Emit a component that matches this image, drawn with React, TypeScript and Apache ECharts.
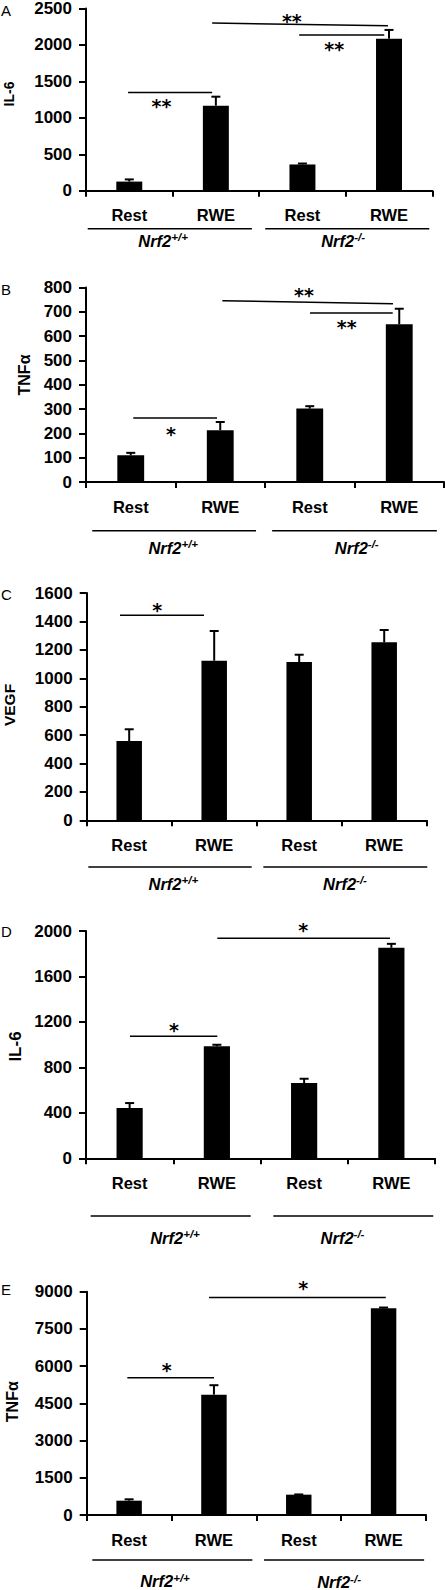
import { useEffect, useRef } from "react";
import * as echarts from "echarts";

// ---------- data ----------
const categories = ["Rest", "RWE", "Rest", "RWE"];
const groupSup = ["+/+", "-/-"];

const il6AValues = [125, 1167, 360, 2086];
const il6AErrors = [30, 123, 13, 120];
const tnfBValues = [110, 213, 302, 649];
const tnfBErrors = [10, 34, 10, 64];
const vegfCValues = [558, 1124, 1115, 1253];
const vegfCErrors = [83, 209, 51, 87];
const il6DValues = [442, 985, 662, 1852];
const il6DErrors = [44, 14, 38, 35];
const tnfEValues = [577, 4851, 819, 8332];
const tnfEErrors = [56, 380, 10, 30];

const yMaxes = [2500, 800, 1600, 2000, 9000];
const yIntervals = [500, 100, 200, 400, 1500];
const yTitles = ["IL-6", "TNFα", "VEGF", "IL-6", "TNFα"];
const panelLetters = ["A", "B", "C", "D", "E"];

// significance lines: [u1, value1, u2, value2]; u = position along the category axis in category widths
const sigLinesA = [[0.486, 1348, 1.457, 1348], [1.457, 2300, 3.488, 2263], [2.462, 2137, 3.445, 2137]];
const sigStarsA: [string, number, number][] = [["**", 0.871, 1219], ["**", 2.378, 2393], ["**", 2.867, 2004]];
const sigLinesB = [[0.528, 263, 1.464, 263], [1.523, 746, 3.43, 734], [2.503, 695, 3.427, 695]];
const sigStarsB: [string, number, number][] = [["*", 0.95, 214], ["**", 2.436, 787], ["**", 2.913, 656]];
const sigLinesC = [[0.392, 1444, 1.38, 1444]];
const sigStarsC: [string, number, number][] = [["*", 0.831, 1511]];
const sigLinesD = [[0.504, 1073, 1.505, 1073], [1.505, 1937, 3.484, 1937]];
const sigStarsD: [string, number, number][] = [["*", 1.009, 1165], ["*", 2.49, 2047]];
const sigLinesE = [[0.479, 5536, 1.501, 5536], [1.442, 8762, 3.526, 8762]];
const sigStarsE: [string, number, number][] = [["*", 0.943, 6008], ["*", 2.554, 9315]];

// genotype group underlines [u1, u2] and label centres (u)
const groupLinesA = [[0.02, 1.916], [2.07, 3.965]];
const groupLabelsA = [0.89, 2.97];
const groupLinesB = [[0.07, 1.9], [2.08, 3.92]];
const groupLabelsB = [0.975, 3.025];
const groupLinesC = [[0.019, 1.941], [2.078, 4.007]];
const groupLabelsC = [1.019, 3.039];
const groupLinesD = [[0.054, 1.888], [2.147, 3.98]];
const groupLabelsD = [1.02, 2.94];
const groupLinesE = [[0.066, 1.953], [2.091, 3.978]];
const groupLabelsE = [0.923, 2.975];

// ---------- layout / styles ----------
const FONT = '"Liberation Sans", Arial, Helvetica, sans-serif';
const STAR_FONT_SIZE = 19;

const panels = [
  {
    values: il6AValues, errors: il6AErrors, sigLines: sigLinesA, sigStars: sigStarsA,
    groupLines: groupLinesA, groupLabels: groupLabelsA,
    grid: { left: 86, top: 8, width: 346.3, height: 182.7 },
    title: { x: 8.5, y: 94, size: 14 },
    gLineOff: 38, gLabelOff: [49.3, 49.3], letterY: 10,
  },
  {
    values: tnfBValues, errors: tnfBErrors, sigLines: sigLinesB, sigStars: sigStarsB,
    groupLines: groupLinesB, groupLabels: groupLabelsB,
    grid: { left: 86, top: 287.6, width: 358, height: 194.4 },
    title: { x: 24, y: 375, size: 16 },
    gLineOff: 48.7, gLabelOff: [65.3, 65.3], letterY: 289,
  },
  {
    values: vegfCValues, errors: vegfCErrors, sigLines: sigLinesC, sigStars: sigStarsC,
    groupLines: groupLinesC, groupLabels: groupLabelsC,
    grid: { left: 86.7, top: 593.1, width: 340, height: 227.2 },
    title: { x: 9, y: 705, size: 15.5 },
    gLineOff: 46.7, gLabelOff: [63, 63], letterY: 594,
  },
  {
    values: il6DValues, errors: il6DErrors, sigLines: sigLinesD, sigStars: sigStarsD,
    groupLines: groupLinesD, groupLabels: groupLabelsD,
    grid: { left: 86, top: 931, width: 349, height: 227.3 },
    title: { x: 15, y: 1046.5, size: 17 },
    gLineOff: 57.7, gLabelOff: [79, 79], letterY: 931,
  },
  {
    values: tnfEValues, errors: tnfEErrors, sigLines: sigLinesE, sigStars: sigStarsE,
    groupLines: groupLinesE, groupLabels: groupLabelsE,
    grid: { left: 86.7, top: 1291.7, width: 339.3, height: 223.3 },
    title: { x: 12.5, y: 1401.7, size: 16 },
    gLineOff: 45, gLabelOff: [65.5, 66.5], letterY: 1289,
  },
];

function buildOption() {
  const grid: any[] = [];
  const xAxis: any[] = [];
  const yAxis: any[] = [];
  const series: any[] = [];
  const graphic: any[] = [];

  panels.forEach((p, i) => {
    grid.push({ ...p.grid, containLabel: false });
    xAxis.push({
      type: "category",
      gridIndex: i,
      data: categories,
      boundaryGap: true,
      axisLine: { show: true, lineStyle: { color: "#000", width: 2 } },
      axisTick: { show: true, length: 6, lineStyle: { color: "#000", width: 2 } },
      axisLabel: { color: "#000", fontFamily: FONT, fontWeight: "bold", fontSize: 16.5, margin: 16, interval: 0 },
      splitLine: { show: false },
    });
    yAxis.push({
      type: "value",
      gridIndex: i,
      min: 0,
      max: yMaxes[i],
      interval: yIntervals[i],
      axisLine: { show: true, lineStyle: { color: "#000", width: 2 } },
      axisTick: { show: true, length: 7, lineStyle: { color: "#000", width: 2 } },
      axisLabel: {
        color: "#000", fontFamily: FONT, fontWeight: "bold", fontSize: 17, margin: 14,
        formatter: (v: number) => String(v),
      },
      splitLine: { show: false },
    });

    series.push({
      type: "bar",
      xAxisIndex: i,
      yAxisIndex: i,
      data: p.values,
      barWidth: "30%",
      itemStyle: { color: "#000" },
      z: 2,
    });

    series.push({
      type: "custom",
      xAxisIndex: i,
      yAxisIndex: i,
      clip: false,
      z: 3,
      encode: { x: 0, y: 1 },
      data: p.values.map((v, k) => [k, v, p.errors[k]]),
      renderItem: (_params: any, api: any) => {
        const x = api.value(0);
        const v = api.value(1);
        const e = api.value(2);
        const base = api.coord([x, v]);
        const top = api.coord([x, v + e]);
        const cap = 4.5;
        return {
          type: "group",
          children: [
            { type: "line", shape: { x1: base[0], y1: base[1], x2: base[0], y2: top[1] }, style: { stroke: "#000", lineWidth: 2 } },
            { type: "line", shape: { x1: base[0] - cap, y1: top[1], x2: base[0] + cap, y2: top[1] }, style: { stroke: "#000", lineWidth: 2 } },
          ],
        };
      },
    });

    const items: any[] = [
      ...p.sigLines.map((d) => ({ kind: "line", d })),
      ...p.sigStars.map((d) => ({ kind: "star", d })),
      ...p.groupLines.map((d) => ({ kind: "gline", d })),
      ...p.groupLabels.map((u, k) => ({ kind: "glabel", d: [u, k] })),
    ];
    series.push({
      type: "custom",
      xAxisIndex: i,
      yAxisIndex: i,
      clip: false,
      silent: true,
      z: 4,
      encode: { x: 0, y: 1 },
      data: items.map(() => [0, 0]),
      renderItem: (params: any, api: any) => {
        const it = items[params.dataIndex];
        const cs = params.coordSys;
        const cw = cs.width / categories.length;
        const px = (u: number) => cs.x + u * cw;
        const py = (v: number) => api.coord([0, v])[1];
        const axisY = cs.y + cs.height;
        if (it.kind === "line") {
          const [u1, v1, u2, v2] = it.d;
          return { type: "line", shape: { x1: px(u1), y1: py(v1), x2: px(u2), y2: py(v2) }, style: { stroke: "#000", lineWidth: 1.5 } };
        }
        if (it.kind === "star") {
          const [s, u, v] = it.d;
          return {
            type: "text",
            x: px(u),
            y: py(v) + 0.23 * STAR_FONT_SIZE,
            style: {
              text: s, fill: "#000", font: `bold ${STAR_FONT_SIZE}px "DejaVu Sans", sans-serif`,
              align: "center", verticalAlign: "middle",
            },
          };
        }
        if (it.kind === "gline") {
          const [u1, u2] = it.d;
          const y = axisY + p.gLineOff;
          return { type: "line", shape: { x1: px(u1), y1: y, x2: px(u2), y2: y }, style: { stroke: "#000", lineWidth: 1.6 } };
        }
        const [u, k] = it.d;
        return {
          type: "text",
          x: px(u),
          y: axisY + p.gLabelOff[k],
          style: {
            text: `{a|Nrf2}{b|${groupSup[k]}}`,
            align: "center",
            verticalAlign: "middle",
            rich: {
              a: { fontFamily: FONT, fontWeight: "bold", fontStyle: "italic", fontSize: 16.5, lineHeight: 18, fill: "#000", verticalAlign: "bottom" },
              b: { fontFamily: FONT, fontWeight: "bold", fontStyle: "italic", fontSize: 11.5, lineHeight: 11, fill: "#000", verticalAlign: "top" },
            },
          },
        };
      },
    });

    graphic.push({
      type: "text",
      x: 1,
      y: p.letterY,
      style: { text: panelLetters[i], fill: "#000", font: `15px ${FONT}`, verticalAlign: "middle", align: "left" },
    });
    graphic.push({
      type: "text",
      x: p.title.x,
      y: p.title.y,
      rotation: Math.PI / 2,
      style: {
        text: yTitles[i], fill: "#000", font: `bold ${p.title.size}px ${FONT}`,
        verticalAlign: "middle", align: "center",
      },
    });
  });

  return {
    animation: false,
    backgroundColor: "#fff",
    grid,
    xAxis,
    yAxis,
    series,
    graphic,
  };
}

export default function App() {
  const ref = useRef<HTMLDivElement>(null);
  useEffect(() => {
    const chart = echarts.init(ref.current!, null, { renderer: "svg" });
    chart.setOption(buildOption() as any);
    return () => chart.dispose();
  }, []);
  return (
    <div
      ref={ref}
      style={{ position: "absolute", left: 0, top: 0, width: 445, height: 1590, background: "#fff" }}
    />
  );
}
